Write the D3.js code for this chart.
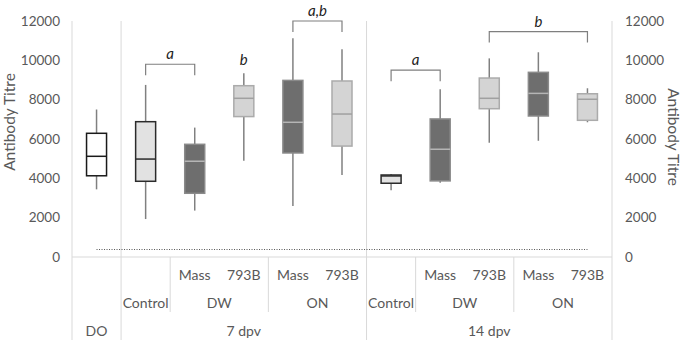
<!DOCTYPE html>
<html>
<head>
<meta charset="utf-8">
<script src="https://cdn.jsdelivr.net/npm/d3@7"></script>
<style>
  body { margin: 0; background: #fff; }
  svg { font-family: Lato, "Open Sans", sans-serif; }
  .tick-label { fill: #595959; font-size: 13.5px; }
  .cat-label { fill: #595959; font-size: 14px; }
  .axis-title { fill: #595959; font-size: 15.5px; }
  .sig { fill: #222; font-size: 15px; font-style: italic; }
</style>
</head>
<body>
<div id="chart"></div>
<script>
// category labels, one entry per box, three levels
let strain = ['', '', 'Mass', '793B', 'Mass', '793B', '', 'Mass', '793B', 'Mass', '793B'];
let route = ['', 'Control', 'DW', 'DW', 'ON', 'ON', 'Control', 'DW', 'DW', 'ON', 'ON'];
let time = ['DO', '7 dpv', '7 dpv', '7 dpv', '7 dpv', '7 dpv', '14 dpv', '14 dpv', '14 dpv', '14 dpv', '14 dpv'];

// box plot values
let whiskerLow = [3440, 1930, 2360, 4900, 2590, 4170, 3400, 3780, 5810, 5910, 6850];
let q1 = [4130, 3850, 3240, 7140, 5290, 5640, 3750, 3870, 7540, 7170, 6950];
let median = [5120, 4980, 4870, 8070, 6850, 7270, 4120, 5480, 8070, 8320, 8020];
let q3 = [6290, 6880, 5730, 8710, 8980, 8950, 4170, 7020, 9100, 9390, 8300];
let whiskerHigh = [7500, 8750, 6580, 9340, 11120, 10560, 4220, 8530, 10100, 10410, 8580];

// detection limit (dotted line)
let detectionLimit = 400;

// significance brackets
let bracketFrom = [1, 3, 4, 6, 8];
let bracketTo = [2, 3, 5, 7, 10];
let bracketLevel = [9800, 9500, 12000, 9500, 11460];
let bracketLabel = ['a', 'b', 'a,b', 'a', 'b'];

let yTicks = [0, 2000, 4000, 6000, 8000, 10000, 12000];

let width = 684, height = 343;
let margin = {top: 21, right: 72, bottom: 86, left: 72};

let svg = d3.select('#chart').append('svg')
    .attr('width', width)
    .attr('height', height);

let x = d3.scaleBand()
    .domain(d3.range(time.length))
    .range([margin.left, width - margin.right]);

let y = d3.scaleLinear()
    .domain([0, 12000])
    .range([height - margin.bottom, margin.top]);

let gridColor = '#d9d9d9';
let bottom = height - 3;

// y tick labels, both sides
svg.selectAll('.tl-left').data(yTicks).enter().append('text')
    .attr('class', 'tick-label')
    .attr('x', 60)
    .attr('y', d => y(d))
    .attr('dy', '0.35em')
    .attr('text-anchor', 'end')
    .text(d => d);

svg.selectAll('.tl-right').data(yTicks).enter().append('text')
    .attr('class', 'tick-label')
    .attr('x', 625)
    .attr('y', d => y(d))
    .attr('dy', '0.35em')
    .text(d => d);

// axis titles
svg.append('text')
    .attr('class', 'axis-title')
    .attr('transform', 'translate(15,122) rotate(-90)')
    .attr('text-anchor', 'middle')
    .text('Antibody Titre');

svg.append('text')
    .attr('class', 'axis-title')
    .attr('transform', 'translate(668,137) rotate(90)')
    .attr('text-anchor', 'middle')
    .text('Antibody Titre');

// base line
svg.append('line')
    .attr('x1', x.range()[0]).attr('x2', x.range()[1])
    .attr('y1', y(0)).attr('y2', y(0))
    .attr('stroke', gridColor);

// vertical separators: full height between time groups, short between routes
let n = time.length;
let edges = [0];
for (let i = 1; i < n; i++) {
    if (time[i] !== time[i - 1]) edges.push(i);
}
edges.push(n);
let xEdge = i => i === n ? x.range()[1] : x(i);

svg.selectAll('.sep-full').data(edges).enter().append('line')
    .attr('x1', d => xEdge(d)).attr('x2', d => xEdge(d))
    .attr('y1', y(12000)).attr('y2', bottom)
    .attr('stroke', gridColor);

let routeEdges = [];
for (let i = 1; i < n; i++) {
    if (time[i] === time[i - 1] && route[i] !== route[i - 1]) routeEdges.push(i);
}
svg.selectAll('.sep-route').data(routeEdges).enter().append('line')
    .attr('x1', d => xEdge(d)).attr('x2', d => xEdge(d))
    .attr('y1', y(0)).attr('y2', 312)
    .attr('stroke', gridColor);

// category labels, grouping runs of equal values
function groupRuns(labels, parent) {
    let runs = [];
    labels.forEach((l, i) => {
        let last = runs[runs.length - 1];
        if (last && last.label === l && (!parent || parent[i] === parent[last.start])) {
            last.end = i;
        } else {
            runs.push({label: l, start: i, end: i});
        }
    });
    return runs.filter(r => r.label !== '');
}

let rows = [
    {runs: groupRuns(strain, route), y: 275},
    {runs: groupRuns(route, time), y: 303},
    {runs: groupRuns(time), y: 331}
];
rows.forEach(row => {
    svg.selectAll(null).data(row.runs).enter().append('text')
        .attr('class', 'cat-label')
        .attr('x', d => (x(d.start) + x(d.end) + x.bandwidth()) / 2)
        .attr('y', row.y)
        .attr('dy', '0.35em')
        .attr('text-anchor', 'middle')
        .text(d => d.label);
});

// box styles by strain / control
function boxStyle(i) {
    if (route[i] === '') return {fill: '#ffffff', stroke: '#1a1a1a', med: '#1a1a1a'};
    if (route[i] === 'Control') return {fill: '#e2e2e2', stroke: '#2b2b2b', med: '#2b2b2b'};
    if (strain[i] === 'Mass') return {fill: '#6e6e6e', stroke: '#8a8a8a', med: '#b5b5b5'};
    return {fill: '#d4d4d4', stroke: '#ababab', med: '#a0a0a0'};
}

let boxW = 20;
let whiskerColor = '#808080';
let cx = i => x(i) + x.bandwidth() / 2;

let boxes = svg.selectAll('.box').data(d3.range(n)).enter().append('g')
    .attr('class', 'box');

boxes.append('line')
    .attr('x1', cx).attr('x2', cx)
    .attr('y1', i => y(whiskerHigh[i])).attr('y2', i => y(q3[i]))
    .attr('stroke', whiskerColor).attr('stroke-width', 1.5);

boxes.append('line')
    .attr('x1', cx).attr('x2', cx)
    .attr('y1', i => y(q1[i])).attr('y2', i => y(whiskerLow[i]))
    .attr('stroke', whiskerColor).attr('stroke-width', 1.5);

boxes.append('rect')
    .attr('x', i => cx(i) - boxW / 2)
    .attr('y', i => y(q3[i]))
    .attr('width', boxW)
    .attr('height', i => y(q1[i]) - y(q3[i]))
    .attr('fill', i => boxStyle(i).fill)
    .attr('stroke', i => boxStyle(i).stroke)
    .attr('stroke-width', 1.5);

boxes.append('line')
    .attr('x1', i => cx(i) - boxW / 2).attr('x2', i => cx(i) + boxW / 2)
    .attr('y1', i => y(median[i])).attr('y2', i => y(median[i]))
    .attr('stroke', i => boxStyle(i).med).attr('stroke-width', 1.5);

// detection limit
let yDl = Math.round(y(detectionLimit)) + 0.5;
svg.append('line')
    .attr('x1', cx(0)).attr('x2', cx(n - 1))
    .attr('y1', yDl).attr('y2', yDl)
    .attr('stroke', '#555')
    .attr('stroke-width', 1)
    .attr('stroke-dasharray', '1,1.5');

// significance brackets
let drop = 11;
bracketLabel.forEach((lab, k) => {
    let x1 = cx(bracketFrom[k]), x2 = cx(bracketTo[k]);
    let yb = y(bracketLevel[k]);
    if (bracketFrom[k] !== bracketTo[k]) {
        svg.append('path')
            .attr('d', 'M' + x1 + ',' + (yb + drop) + 'V' + yb + 'H' + x2 + 'V' + (yb + drop))
            .attr('fill', 'none')
            .attr('stroke', '#7f7f7f')
            .attr('stroke-width', 1.2);
    }
    svg.append('text')
        .attr('class', 'sig')
        .attr('x', (x1 + x2) / 2)
        .attr('y', yb - 5)
        .attr('text-anchor', 'middle')
        .text(lab);
});
</script>
</body>
</html>
